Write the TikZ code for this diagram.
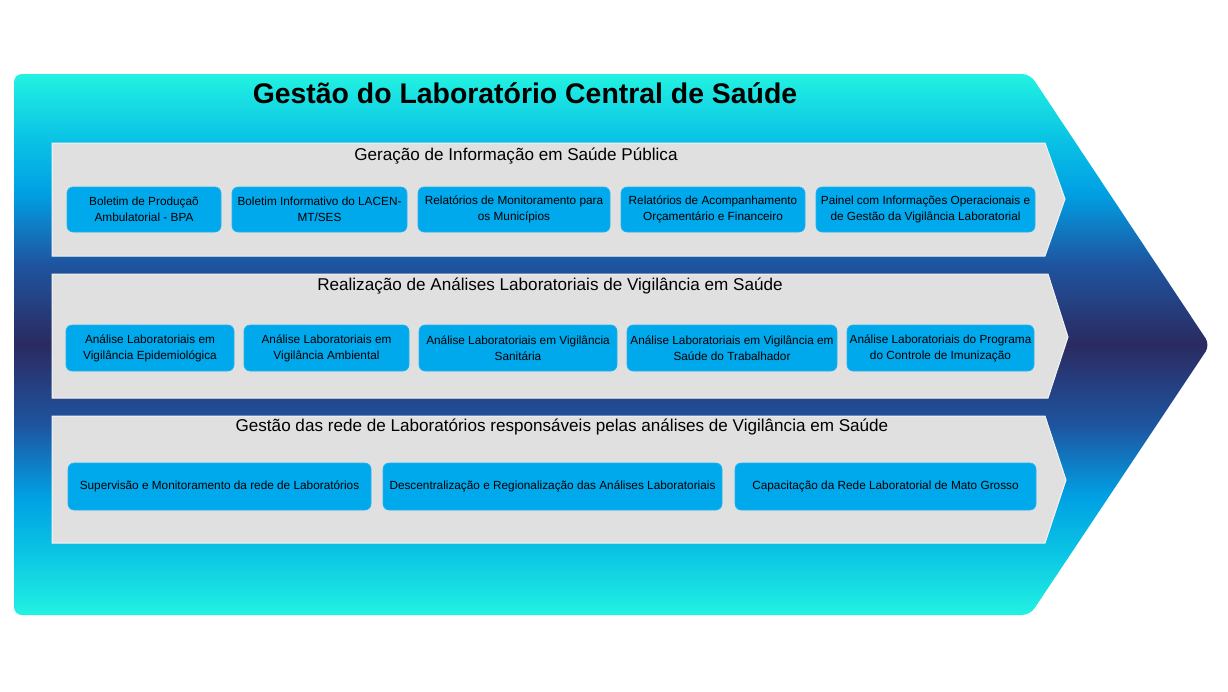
\documentclass[tikz,border=0pt]{standalone}
\usepackage{fontspec}
\setmainfont{Liberation Sans}
\usepackage{tikz}
\usetikzlibrary{positioning}
\definecolor{cyanA}{RGB}{34,242,226}
\definecolor{cyanB}{RGB}{10,195,228}
\definecolor{blueC}{RGB}{0,160,228}
\definecolor{blueD}{RGB}{30,85,160}
\definecolor{navyE}{RGB}{43,42,97}
\definecolor{bandgrey}{RGB}{224,224,224}
\definecolor{boxblue}{RGB}{0,168,236}
\pgfdeclareverticalshading{chevshade}{100bp}{color(0bp)=(cyanA); color(25bp)=(cyanA);
  color(31bp)=(cyanB); color(36bp)=(blueC); color(42.5bp)=(blueD); color(50bp)=(navyE);
  color(57.5bp)=(blueD); color(64bp)=(blueC); color(69bp)=(cyanB); color(75bp)=(cyanA);
  color(100bp)=(cyanA)}

\begin{document}
\begin{tikzpicture}[x=1pt,y=-1pt,
  band/.style={fill=bandgrey,draw=white!60!bandgrey,line width=1pt},
  bandtitle/.style={font=\fontsize{17.1}{20}\selectfont},
  item/.style={fill=boxblue,draw=boxblue!85!white,line width=0.6pt,rounded corners=6pt,
    inner sep=0pt,align=center,font=\fontsize{11.8}{16}\selectfont}]
  \useasboundingbox (0,0) rectangle (1228,691);
  \shade[shading=chevshade,rounded corners=8pt]
        (14,74) -- (1030,74) -- (1210,345) -- (1030,615) -- (14,615) -- cycle;
  \node[font=\bfseries\fontsize{28.4}{33}\selectfont] (title) at (525,93)
        {Gestão do Laboratório Central de Saúde};

  \draw[band] (52,143) -- (1045,143) -- (1065,199) -- (1045,256) -- (52,256) -- cycle;
  \draw[band] (52,274) -- (1048,274) -- (1068,337) -- (1048,398) -- (52,398) -- cycle;
  \draw[band] (52,416) -- (1045,416) -- (1066,480) -- (1045,543) -- (52,543) -- cycle;

  \node[bandtitle] (geracao) at (516,156) {Geração de Informação em Saúde Pública};
  \node[bandtitle] (realizacao) at (550,286)
        {Realização de Análises Laboratoriais de Vigilância em Saúde};
  \node[bandtitle] (gestaorede) at (562,427)
        {Gestão das rede de Laboratórios responsáveis pelas análises de Vigilância em Saúde};

  \node[item,minimum width=154pt,minimum height=45pt] (bpa) at (144,209.5)
        {Boletim de Produçaõ\\Ambulatorial - BPA};
  \node[item,minimum width=175pt,minimum height=45pt] (boletim) at (319.5,209.5)
        {Boletim Informativo do LACEN-\\MT/SES};
  \node[item,minimum width=192pt,minimum height=45pt] (municipios) at (514,209.5)
        {Relatórios de Monitoramento para\\os Municípios};
  \node[item,minimum width=184pt,minimum height=45pt] (orcamento) at (713,209.5)
        {Relatórios de Acompanhamento\\Orçamentário e Financeiro};
  \node[item,minimum width=219pt,minimum height=45pt] (painel) at (925.5,209.5)
        {Painel com Informações Operacionais e\\de Gestão da Vigilância Laboratorial};

  \node[item,minimum width=168pt,minimum height=46pt] (epidem) at (150,348)
        {Análise Laboratoriais em\\Vigilância Epidemiológica};
  \node[item,minimum width=165pt,minimum height=46pt] (ambiental) at (326.5,348)
        {Análise Laboratoriais em\\Vigilância Ambiental};
  \node[item,minimum width=198pt,minimum height=46pt] (sanitaria) at (518,348)
        {Análise Laboratoriais em Vigilância\\Sanitária};
  \node[item,minimum width=210pt,minimum height=46pt] (trabalhador) at (732,348)
        {Análise Laboratoriais em Vigilância em\\Saúde do Trabalhador};
  \node[item,minimum width=187pt,minimum height=46pt] (imunizacao) at (940.5,348)
        {Análise Laboratoriais do Programa\\do Controle de Imunização};

  \node[item,minimum width=303pt,minimum height=47pt] (supervisao) at (219.5,486.5)
        {Supervisão e Monitoramento da rede de Laboratórios};
  \node[item,minimum width=339pt,minimum height=47pt] (descentral) at (552.5,486.5)
        {Descentralização e Regionalização das Análises Laboratoriais};
  \node[item,minimum width=301pt,minimum height=47pt] (capacitacao) at (885.5,486.5)
        {Capacitação da Rede Laboratorial de Mato Grosso};
\end{tikzpicture}
\end{document}
